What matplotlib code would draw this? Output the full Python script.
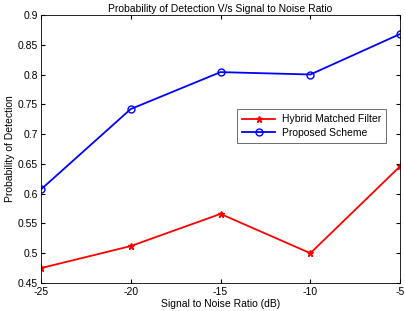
import matplotlib
matplotlib.use("Agg")
import matplotlib.pyplot as plt

snr = [-25, -20, -15, -10, -5]
hybrid = [0.475, 0.512, 0.566, 0.500, 0.646]
proposed = [0.607, 0.742, 0.804, 0.800, 0.868]
xticks = [-25, -20, -15, -10, -5]
yticks = [0.45, 0.5, 0.55, 0.6, 0.65, 0.7, 0.75, 0.8, 0.85, 0.9]

plt.rcParams['font.family'] = ['Liberation Sans', 'DejaVu Sans']
fig = plt.figure(figsize=(4.05, 3.11), dpi=100)
ax = fig.add_axes([0.101, 0.09, 0.887, 0.862])
ax.plot(snr, hybrid, color='#ff0000', marker='*', markersize=5, lw=1.3, label='Hybrid Matched Filter')
ax.plot(snr, proposed, color='#0000ff', marker='o', markersize=5, markerfacecolor='none', lw=1.3, label='Proposed Scheme')
ax.set_xlim(-25, -5)
ax.set_ylim(0.45, 0.9)
ax.set_xticks(xticks)
ax.set_xticklabels([str(v) for v in xticks])
ax.set_yticks(yticks)
ax.set_yticklabels([('%g' % v) for v in yticks])
ax.tick_params(direction='in', length=3, labelsize=7.5, top=True, right=True)
ax.tick_params(axis='x', pad=3)
ax.tick_params(axis='y', pad=2)
for s in ax.spines.values():
    s.set_linewidth(0.6)
ax.set_xlabel('Signal to Noise Ratio (dB)', fontsize=7.5, labelpad=1)
ax.set_ylabel('Probability of Detection', fontsize=7.5, labelpad=2)
ax.set_title('Probability of Detection V/s Signal to Noise Ratio', fontsize=7.5, pad=2)
leg = ax.legend(loc='upper right', bbox_to_anchor=(0.961, 0.649), fontsize=7.5, fancybox=False,
                edgecolor='#555555', framealpha=1, borderaxespad=0, handlelength=3.2,
                handletextpad=0.6, borderpad=0.5, labelspacing=0.35)
leg.get_frame().set_linewidth(0.6)
fig.savefig('out.png', dpi=100)
